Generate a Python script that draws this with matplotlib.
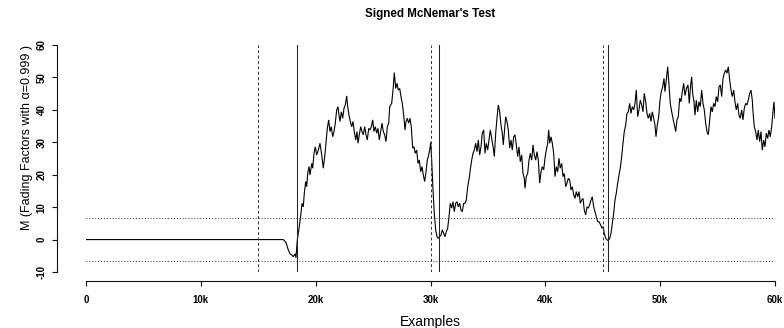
import matplotlib
matplotlib.use("Agg")
import matplotlib.pyplot as plt
from matplotlib.ticker import FixedLocator, FixedFormatter

plt.rcParams['font.family'] = ['Liberation Sans', 'DejaVu Sans']

# Signed McNemar statistic (fading factors, alpha = 0.999) along the stream
examples = [0, 17180, 17416, 17616, 17764, 17913, 18052, 18200, 18287, 18400, 18574, 18722, 18809, 18923, 19010,
            19132, 19219, 19306, 19419, 19506, 19654, 19741, 19854, 19968, 20090, 20229, 20377, 20525, 20664, 20786,
            20899, 21013, 21134, 21248, 21361, 21483, 21596, 21709, 21831, 21944, 22031, 22118, 22232, 22353, 22467,
            22580, 22702, 22789, 22902, 23016, 23137, 23250, 23364, 23486, 23599, 23686, 23799, 23921, 24034, 24148,
            24270, 24383, 24496, 24618, 24731, 24844, 24966, 25079, 25193, 25315, 25428, 25541, 25663, 25776, 25889,
            26011, 26124, 26238, 26360, 26447, 26621, 26760, 26847, 26969, 27082, 27195, 27317, 27430, 27544, 27665,
            27779, 27866, 27979, 28101, 28214, 28327, 28449, 28562, 28676, 28797, 28911, 29024, 29146, 29259, 29372,
            29494, 29607, 29721, 29842, 29956, 30017, 30104, 30217, 30330, 30452, 30565, 30679, 30801, 30913, 31027,
            31149, 31262, 31375, 31497, 31610, 31723, 31845, 31958, 32072, 32194, 32307, 32420, 32542, 32655, 32768,
            32890, 33003, 33117, 33239, 33352, 33465, 33587, 33700, 33813, 33935, 34048, 34162, 34284, 34397, 34510,
            34632, 34745, 34858, 34980, 35093, 35206, 35328, 35468, 35555, 35677, 35790, 35903, 36025, 36139, 36252,
            36339, 36461, 36548, 36661, 36774, 36896, 37009, 37122, 37244, 37357, 37471, 37592, 37706, 37819, 37941,
            38054, 38168, 38228, 38342, 38464, 38577, 38690, 38812, 38925, 39038, 39160, 39273, 39387, 39509, 39622,
            39735, 39857, 39970, 40084, 40205, 40292, 40380, 40493, 40606, 40728, 40841, 40955, 41076, 41189, 41303,
            41425, 41538, 41651, 41773, 41886, 42000, 42121, 42234, 42348, 42470, 42583, 42696, 42818, 42931, 43045,
            43166, 43279, 43393, 43515, 43628, 43741, 43863, 43976, 44090, 44211, 44324, 44438, 44560, 44673, 44820,
            44933, 45047, 45134, 45256, 45369, 45482, 45604, 45717, 45830, 45952, 46065, 46179, 46300, 46414, 46527,
            46649, 46762, 46875, 46997, 47110, 47224, 47346, 47459, 47572, 47694, 47807, 47920, 48042, 48155, 48269,
            48391, 48504, 48617, 48739, 48852, 48965, 49087, 49200, 49314, 49435, 49549, 49636, 49749, 49871, 49985,
            50098, 50220, 50332, 50420, 50533, 50655, 50768, 50881, 51003, 51116, 51229, 51351, 51464, 51578, 51700,
            51813, 51926, 52048, 52161, 52292, 52422, 52535, 52657, 52745, 52831, 52945, 53032, 53145, 53267, 53380,
            53493, 53615, 53728, 53842, 53964, 54077, 54190, 54312, 54425, 54538, 54660, 54773, 54887, 55009, 55122,
            55235, 55357, 55470, 55584, 55705, 55818, 55932, 56054, 56167, 56280, 56402, 56515, 56628, 56750, 56863,
            56977, 57099, 57212, 57325, 57447, 57560, 57674, 57796, 57908, 58022, 58083, 58196, 58318, 58431, 58544,
            58666, 58779, 58892, 59014, 59127, 59241, 59363, 59476, 59589, 59711, 59824, 59911, 60000]

statistic = [0, 0, -0.9, -3.2, -4.4, -4.7, -5.3, -4.4, -5.6, -0.1, 4.0, 8.1, 11.2, 10.1, 14.3,
             17.9, 16.3, 20.4, 22.5, 19.9, 23.5, 22.0, 26.6, 28.6, 26.1, 27.6, 29.7, 26.1, 22.0, 25.6,
             29.7, 34.3, 36.9, 33.3, 34.8, 31.7, 33.3, 35.9, 40.0, 41.0, 38.4, 36.4, 39.4, 37.4, 40.5,
             41.5, 44.3, 41.0, 38.4, 36.4, 34.8, 36.4, 33.3, 30.7, 33.3, 29.7, 32.3, 34.8, 33.3, 32.3,
             34.8, 32.3, 30.7, 34.3, 33.8, 34.8, 36.9, 33.3, 34.8, 32.8, 34.3, 30.7, 33.3, 35.9, 33.3,
             32.3, 30.2, 34.8, 35.9, 41.0, 42.0, 47.1, 51.5, 46.6, 48.2, 46.1, 46.6, 44.1, 42.0, 38.4,
             33.8, 36.4, 37.4, 35.9, 37.4, 34.8, 28.2, 28.6, 26.6, 27.6, 23.5, 24.5, 20.9, 22.5, 19.9,
             17.9, 20.9, 24.5, 26.1, 28.2, 29.9, 24.5, 15.3, 8.1, 3.0, 0.9, 0.4, 0.9, 1.4, 3.0,
             1.9, 0.9, 2.4, 3.5, 7.1, 11.2, 9.7, 11.7, 8.6, 11.2, 11.7, 10.1, 11.2, 9.1, 8.6,
             11.2, 11.2, 12.2, 16.3, 18.4, 21.5, 24.5, 26.6, 27.6, 29.7, 27.1, 30.7, 26.1, 28.6, 32.8,
             33.8, 26.6, 29.7, 27.6, 30.7, 33.8, 31.2, 28.2, 25.6, 32.8, 37.4, 41.5, 39.4, 35.3, 32.8,
             29.2, 34.3, 37.9, 36.4, 33.8, 28.2, 30.7, 27.6, 31.7, 32.3, 29.2, 25.6, 28.6, 24.0, 26.1,
             20.4, 18.9, 15.8, 19.4, 20.4, 24.5, 26.6, 24.5, 29.2, 26.1, 24.5, 27.1, 24.5, 17.4, 20.9,
             22.5, 21.5, 25.1, 27.6, 29.7, 33.8, 29.7, 31.7, 29.7, 26.6, 19.4, 22.5, 20.9, 25.1, 22.0,
             23.5, 19.4, 20.4, 16.3, 17.4, 18.9, 18.4, 15.3, 16.3, 13.8, 12.7, 14.8, 13.2, 14.8, 11.2,
             12.2, 12.7, 9.1, 7.6, 10.1, 9.7, 10.7, 12.2, 13.2, 10.1, 8.6, 7.0, 5.5, 5.5, 4.5,
             3.5, 4.0, 1.9, 0.4, -0.1, -0.3, 0.4, 1.9, 5.0, 8.1, 12.2, 14.3, 17.4, 19.9, 22.0,
             25.6, 29.7, 33.3, 35.3, 38.9, 39.4, 42.0, 38.9, 41.0, 40.0, 42.0, 46.1, 37.9, 40.0, 43.0,
             41.5, 39.4, 45.1, 42.5, 38.9, 37.4, 38.9, 36.4, 39.4, 37.4, 35.3, 31.7, 35.3, 37.9, 43.0,
             45.6, 47.1, 49.7, 45.6, 49.2, 53.3, 47.7, 42.0, 39.4, 37.4, 35.3, 33.3, 36.9, 37.9, 43.6,
             42.5, 45.6, 48.2, 44.4, 46.6, 47.7, 42.0, 47.7, 50.2, 45.1, 42.5, 38.4, 43.0, 39.4, 42.5,
             41.0, 46.1, 42.0, 40.0, 35.9, 33.3, 32.3, 36.9, 41.0, 39.4, 42.0, 41.0, 44.1, 42.5, 47.1,
             47.7, 44.1, 49.7, 51.3, 52.3, 51.3, 53.3, 49.2, 46.1, 44.1, 46.1, 42.5, 40.0, 42.0, 38.4,
             37.4, 40.0, 36.9, 40.5, 42.0, 41.5, 43.0, 45.1, 46.1, 43.0, 39.4, 34.8, 33.3, 30.7, 33.8,
             30.2, 33.3, 27.6, 30.7, 28.6, 32.8, 31.2, 33.8, 31.7, 34.8, 39.4, 42.5, 37.4]

drift_points = [15000, 30000, 45000]        # true change points (dashed)
detections = [18350, 30700, 45500]          # detected changes (solid)
threshold = 6.635                           # critical value, alpha = 0.01

x_ticks = [0, 10000, 20000, 30000, 40000, 50000, 60000]
x_tick_labels = ['0', '10k', '20k', '30k', '40k', '50k', '60k']
y_ticks = [-10, 0, 10, 20, 30, 40, 50, 60]
y_tick_labels = ['-10', '0', '10', '20', '30', '40', '50', '60']

W, H = 784, 328
fig = plt.figure(figsize=(W / 100, H / 100), dpi=100)
ax = fig.add_axes([86 / W, 56 / H, 689 / W, 227 / H])
ax.set_xlim(0, 60000)
ax.set_ylim(-10, 60)

ax.plot(examples, statistic, color='black', lw=0.8, solid_joinstyle='miter')

for xd in drift_points:
    ax.axvline(xd, color='#333333', lw=0.7, ls=(0, (3, 2.5)))
for xd in detections:
    ax.axvline(xd, color='#222222', lw=0.75)
for yv in (threshold, -threshold):
    ax.axhline(yv, color='#333333', lw=0.7, ls=(0, (1, 2)))

for side in ('top', 'right'):
    ax.spines[side].set_visible(False)
ax.spines['left'].set_position(('outward', 20.7))
ax.spines['bottom'].set_position(('outward', 6.3))
ax.spines['left'].set_bounds(-10, 60)
ax.spines['bottom'].set_bounds(0, 60000)
for side in ('left', 'bottom'):
    ax.spines[side].set_linewidth(0.8)
    ax.spines[side].set_color('#111111')

ax.xaxis.set_major_locator(FixedLocator(x_ticks))
ax.xaxis.set_major_formatter(FixedFormatter(x_tick_labels))
ax.yaxis.set_major_locator(FixedLocator(y_ticks))
ax.yaxis.set_major_formatter(FixedFormatter(y_tick_labels))
ax.tick_params(axis='both', length=3.8, width=0.8, color='#111111', labelsize=7)
ax.tick_params(axis='x', pad=6.6)
ax.tick_params(axis='y', pad=4.0)
for lab in ax.get_xticklabels():
    lab.set_fontweight('bold')
for lab in ax.get_yticklabels():
    lab.set_fontweight('bold')
    lab.set_rotation(90)
    lab.set_verticalalignment('center')

fig.text(430.5 / W, 1 - 14 / H, "Signed McNemar's Test", ha='center', va='center',
         fontsize=8.4, fontweight='bold')
fig.text(430.5 / W, 1 - 326 / H, 'Examples', ha='center', va='baseline', fontsize=10)
fig.text(27 / W, 1 - 138 / H, 'M (Fading Factors with α=0.999 )', rotation=90,
         ha='center', va='center', fontsize=9)

fig.savefig('out.png', dpi=100)
